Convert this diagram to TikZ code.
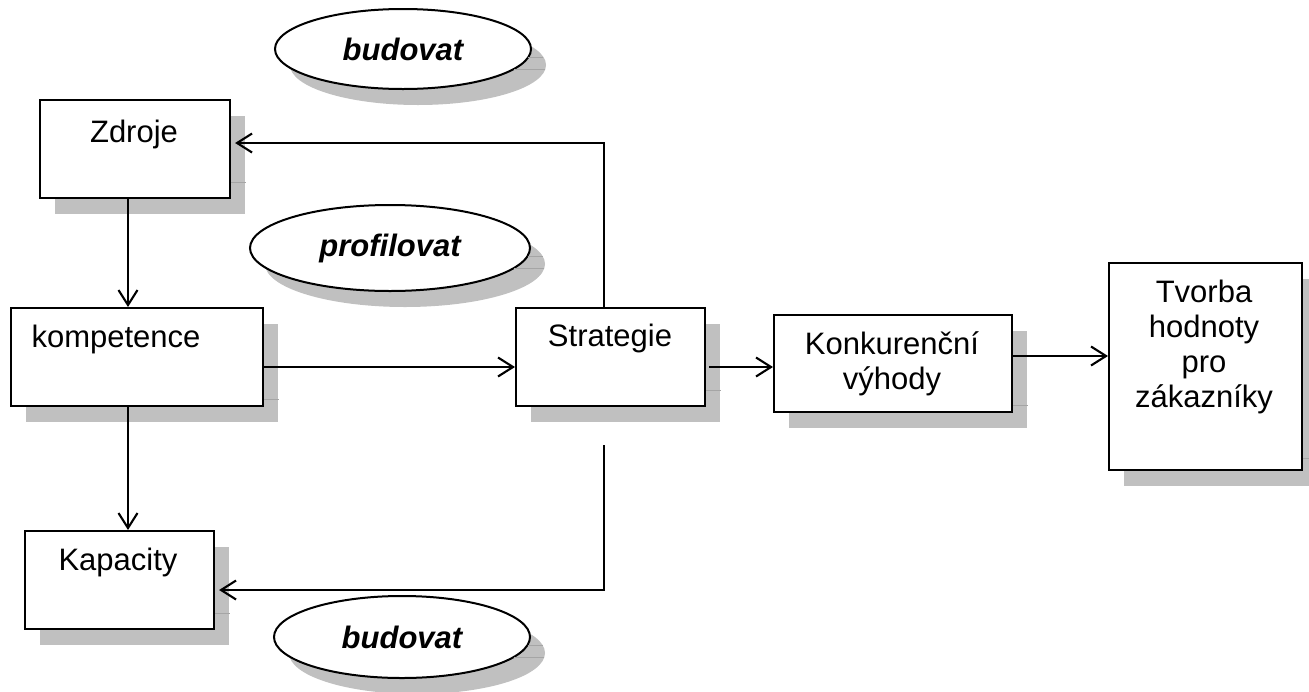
\documentclass[tikz,border=0pt]{standalone}
\usepackage{fontspec}
\setmainfont{Liberation Sans}
\usetikzlibrary{arrows.meta,shapes.geometric,shadows}
\definecolor{shade}{RGB}{192,192,192}
\definecolor{seam}{RGB}{165,165,165}
\begin{document}
\begin{tikzpicture}[x=1pt,y=-1pt,
  font=\fontsize{31}{35}\selectfont,
  shadowed/.style={drop shadow={shadow xshift=15pt,shadow yshift=-16pt,fill=shade,opacity=1}},
  box/.style={draw=black,line width=2.1pt,fill=white,rectangle,inner sep=0pt,
    anchor=north west,shadowed},
  oval/.style={draw=black,line width=2pt,fill=white,ellipse,inner sep=0pt,
    font=\fontsize{31}{35}\selectfont\bfseries\itshape,shadowed},
  lbl/.style={inner sep=0pt,anchor=base},
  mlbl/.style={inner sep=0pt,anchor=north,align=center},
  arr/.style={line width=2.1pt,-{Straight Barb[length=15pt,width=19pt,line width=2.1pt]}},
  seamline/.style={draw=seam,line width=0.8pt}
]
\useasboundingbox (0,0) rectangle (1309,691);

% verb ellipses
\node[oval,minimum width=256pt,minimum height=80pt] (budTop) at (403,49) {budovat};
\node[oval,minimum width=280pt,minimum height=86pt] (prof) at (390,248) {profilovat};
\node[oval,minimum width=256pt,minimum height=82pt] (budBot) at (402,637) {budovat};

% boxes
\node[box,minimum width=190pt,minimum height=98pt] (zdroje) at (39,99) {};
\node[box,minimum width=252pt,minimum height=98pt] (komp) at (10,307) {};
\node[box,minimum width=189pt,minimum height=98pt] (kap) at (24,530) {};
\node[box,minimum width=189pt,minimum height=98pt] (strat) at (515,307) {};
\node[box,minimum width=238pt,minimum height=97pt] (konk) at (773,314) {};
\node[box,minimum width=193pt,minimum height=207pt] (tvorba) at (1108,262) {};

% seams in the box shadows
\draw[seamline] ([yshift=17pt]zdroje.south east) -- ++(15,0);
\draw[seamline] ([yshift=8pt]komp.south east) -- ++(15,0);
\draw[seamline] ([yshift=17pt]kap.south east) -- ++(15,0);
\draw[seamline] ([yshift=17pt]strat.south east) -- ++(15,0);
\draw[seamline] ([yshift=8pt]konk.south east) -- ++(15,0);
\draw[seamline] ([yshift=13pt]tvorba.south east) -- ++(15,0);

% seams in the ellipse shadows
\foreach \cx/\cy/\a/\b in {403/49/128/40, 390/248/140/43, 402/637/128/41}{
  \foreach \d in {8,20}{
    \draw[seamline] ({\cx+\a*sqrt(1-(\d/\b)^2)},\cy+\d)
      -- ({\cx+15+\a*sqrt(1-((\d-16)/\b)^2)},\cy+\d);
  }
}

% box labels
\node[lbl] (zdrojeT) at (134,142) {Zdroje};
\node[lbl] (kompT) at (116,347) {kompetence};
\node[lbl] (kapT) at (118,570) {Kapacity};
\node[lbl] (stratT) at (610,346) {Strategie};
\node[mlbl] (konkT) at (892,331) {Konkurenční\\výhody};
\node[mlbl] (tvorbaT) at (1204,280) {Tvorba\\hodnoty\\pro\\zákazníky};

% helper positions for connector routes
\coordinate (kx) at (128,0);
\coordinate (my) at (0,367);
\coordinate (ty) at (0,356);
\coordinate (sx) at (604,0);
\coordinate (zy) at (0,143);
\coordinate (ky) at (0,590);
\coordinate (sb) at (604,445);

% connectors
\draw[arr] (zdroje.south -| kx) -- (komp.north -| kx);
\draw[arr] (komp.south -| kx) -- (kap.north -| kx);
\draw[arr] (komp.east |- my) -- (strat.west |- my);
\draw[arr,line width=2.8pt] ([xshift=3pt]strat.east |- my) -- (konk.west |- my);
\draw[arr] (konk.east |- ty) -- (tvorba.west |- ty);
\draw[arr,shorten >=4pt] (strat.north -| sx) |- (zdroje.east |- zy);
\draw[arr,shorten >=4pt] (sb) |- (kap.east |- ky);
\end{tikzpicture}
\end{document}
